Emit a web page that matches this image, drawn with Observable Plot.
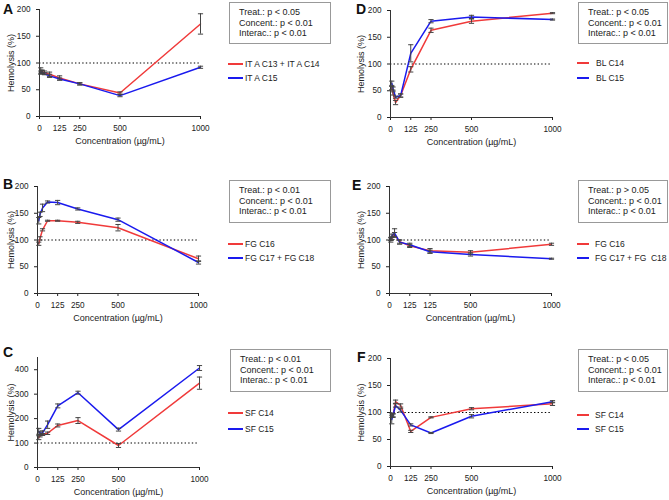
<!DOCTYPE html>
<html><head><meta charset="utf-8">
<script src="https://cdn.jsdelivr.net/npm/d3@7"></script>
<script src="https://cdn.jsdelivr.net/npm/@observablehq/plot@0.6"></script>
<style>
body{margin:0;background:#fff;}
#fig{position:relative;width:669px;height:500px;background:#fff;font-family:"Liberation Sans",Arial,sans-serif;color:#222;}
.pl{position:absolute;}
.pl [aria-label="x-axis tick label"], .pl [aria-label="y-axis tick label"]{font-size:8.2px;}
.letter{position:absolute;font-weight:bold;font-size:14px;line-height:14px;color:#111;}
.stats{position:absolute;border:1px solid #999;box-sizing:border-box;font-size:9px;line-height:10.7px;padding:4px 0 0 9px;white-space:pre;background:#fff;}
.leg{position:absolute;font-size:8.5px;white-space:pre;}
.leg .row{position:absolute;left:0;height:12px;}
.leg .sw{position:absolute;left:0;width:15px;height:0;border-top:2px solid;}
.leg .tx{position:absolute;top:-5px;line-height:12px;}
</style></head>
<body><div id="fig"></div>
<script>
// concentrations (µg/mL)
const conc = [7.8, 15.6, 31.25, 62.5, 125, 250, 500, 1000];
const xTicks = [0, 125, 250, 500, 1000];
const xTickLabels = ["0", "125", "250", "500", "1000"];
const xTickLabelsE = ["0", "125", "125", "500", "1000"];

// Panel A
const aRed = [86, 84, 82, 79, 72, 61, 44, 173];
const aRedErr = [5, 3, 3, 4, 4, 2, 2, 19];
const aBlue = [82, 83, 80, 76, 70, 61, 39, 92];
const aBlueErr = [3, 3, 2, 3, 2, 2, 2, 2];
// Panel D
const dRed = [55, 45, 28, 41, 90, 163, 180, 195];
const dRedErr = [3, 3, 4, 3, 5, 4, 4, 1];
const dBlue = [64, 54, 38, 41, 120, 180, 188, 183];
const dBlueErr = [4, 3, 2, 3, 16, 3, 3, 1];
// Panel B
const bRed = [93, 103, 119, 136, 136, 133, 123, 65];
const bRedErr = [3, 3, 2, 1, 1, 2, 6, 5];
const bBlue = [136, 148, 160, 171, 170, 158, 138, 58];
const bBlueErr = [6, 4, 7, 2, 4, 2, 3, 3];
// Panel E
const eRed = [100, 104, 110, 97, 89, 80, 77, 92];
const eRedErr = [4, 3, 4, 3, 3, 4, 3, 2];
const eBlue = [102, 108, 113, 96, 91, 78, 73, 65];
const eBlueErr = [3, 3, 8, 4, 3, 3, 3, 1];
// Panel C
const cRed = [122, 130, 135, 140, 172, 192, 90, 345];
const cRedErr = [8, 5, 4, 5, 6, 12, 8, 25];
const cBlue = [148, 140, 142, 175, 252, 306, 155, 407];
const cBlueErr = [12, 6, 8, 15, 8, 6, 6, 10];
// Panel F
const fRed = [95, 94, 120, 113, 65, 91, 107, 116];
const fRedErr = [4, 3, 3, 3, 2, 1, 2, 3];
const fBlue = [87, 95, 113, 104, 77, 62, 93, 120];
const fBlueErr = [8, 3, 3, 3, 2, 1, 3, 2];

const yTicks200 = [0, 50, 100, 150, 200];
const yTicks450 = [0, 100, 200, 300, 400];

const RED = "#f03a3a", BLUE = "#1a1aee";

const capSymbol = {draw(ctx, size){ const w = Math.sqrt(size / Math.PI); ctx.moveTo(-w, 0); ctx.lineTo(w, 0); }};

const fig = document.getElementById("fig");

function panel(o){
  const rows = [];
  conc.forEach((c,i)=>{
    rows.push({x:c, y:o.red[i], lo:o.red[i]-o.redErr[i], hi:o.red[i]+o.redErr[i], s:"r"});
    rows.push({x:c, y:o.blue[i], lo:o.blue[i]-o.blueErr[i], hi:o.blue[i]+o.blueErr[i], s:"b"});
  });
  const red = rows.filter(d=>d.s==="r"), blue = rows.filter(d=>d.s==="b");
  const chart = Plot.plot({
    width:o.w, height:o.h, marginLeft:o.ml, marginRight:o.mr, marginTop:o.mt, marginBottom:o.mb,
    style:{fontFamily:"Liberation Sans, Arial, sans-serif", fontSize:"9px", color:"#222", background:"transparent", overflow:"visible"},
    x:{domain:[0,1000], ticks:xTicks, tickFormat:(d,i)=>o.xlabels[i], tickSize:3, label:"Concentration (µg/mL)", labelAnchor:"center", labelOffset:27, labelArrow:"none"},
    y:{domain:o.ydomain, ticks:o.yticks, tickSize:3, label:"Hemolysis (%)", labelAnchor:"center", labelOffset:o.ml-7, labelArrow:"none"},
    marks:[
      Plot.ruleY([{y:100}], {y:"y", x1:()=>0, x2:()=>1000, stroke:"#000", strokeDasharray:"1.4,2.2", strokeWidth:1.1}),
      Plot.ruleX([{x:0, y1:o.ydomain[0], y2:o.ydomain[1]}], {x:"x", y1:"y1", y2:"y2", stroke:"#333"}),
      Plot.ruleY([{y:0, x1:0, x2:1000}], {y:"y", x1:"x1", x2:"x2", stroke:"#333"}),
      Plot.line(red, {x:"x", y:"y", stroke:RED, strokeWidth:1.5}),
      Plot.line(blue, {x:"x", y:"y", stroke:BLUE, strokeWidth:1.5}),
      Plot.ruleX(rows, {x:"x", y1:"lo", y2:"hi", stroke:"#444", strokeWidth:1}),
      Plot.dot(rows, {x:"x", y:"lo", symbol:capSymbol, r:2.6, fill:"none", stroke:"#444", strokeWidth:1}),
      Plot.dot(rows, {x:"x", y:"hi", symbol:capSymbol, r:2.6, fill:"none", stroke:"#444", strokeWidth:1})
    ]
  });
  chart.classList.add("pl");
  chart.style.left = o.left + "px";
  chart.style.top = o.top + "px";
  fig.appendChild(chart);

  const L = document.createElement("div");
  L.className = "letter"; L.textContent = o.letter;
  L.style.left = o.letterX + "px"; L.style.top = o.letterY + "px";
  fig.appendChild(L);

  const S = document.createElement("div");
  S.className = "stats"; S.textContent = o.stats.join("\n");
  S.style.left = o.box[0] + "px"; S.style.top = o.box[1] + "px";
  S.style.width = (o.box[2]-o.box[0]) + "px"; S.style.height = (o.box[3]-o.box[1]) + "px";
  fig.appendChild(S);

  const G = document.createElement("div");
  G.className = "leg"; G.style.left = o.leg[0] + "px"; G.style.top = "0px";
  o.legend.forEach((t,i)=>{
    const r = document.createElement("div"); r.className = "row";
    r.style.top = o.leg[1+i] + "px";
    const sw = document.createElement("div"); sw.className = "sw"; sw.style.borderColor = i===0?RED:BLUE;
    sw.style.width = o.legW + "px";
    const tx = document.createElement("div"); tx.className = "tx"; tx.textContent = t; tx.style.left = (o.legW + o.legGap) + "px";
    r.appendChild(sw); r.appendChild(tx); G.appendChild(r);
  });
  fig.appendChild(G);
}

const statsA = ["Treat.: p < 0.05", "Concent.: p < 0.01", "Interac.: p < 0.01"];
const statsB = ["Treat.: p < 0.01", "Concent.: p < 0.01", "Interac.: p < 0.01"];
const statsE = ["Treat.: p > 0.05", "Concent.: p < 0.01", "Interac.: p < 0.01"];

panel({letter:"A", letterX:3, letterY:2, left:0, top:0, w:215, h:148, ml:39, mr:15, mt:9, mb:32,
  ydomain:[0,200], yticks:yTicks200, xlabels:xTickLabels, red:aRed, redErr:aRedErr, blue:aBlue, blueErr:aBlueErr,
  stats:statsA, box:[229,2,331,44], legend:["IT A C13 + IT A C14","IT A C15"], leg:[228,63,77], legW:15, legGap:2});
panel({letter:"D", letterX:356, letterY:2, left:350, top:0, w:215, h:149, ml:40, mr:13, mt:10, mb:32,
  ydomain:[0,200], yticks:yTicks200, xlabels:xTickLabels, red:dRed, redErr:dRedErr, blue:dBlue, blueErr:dBlueErr,
  stats:statsA, box:[578,2,668,44], legend:["BL C14","BL C15"], leg:[577,62,77], legW:12, legGap:7});
panel({letter:"B", letterX:3, letterY:177, left:0, top:175, w:215, h:150, ml:37, mr:17, mt:11, mb:32,
  ydomain:[0,200], yticks:yTicks200, xlabels:xTickLabels, red:bRed, redErr:bRedErr, blue:bBlue, blueErr:bBlueErr,
  stats:statsB, box:[229,180,331,223], legend:["FG C16","FG C17 + FG C18"], leg:[228,243,257], legW:15, legGap:2});
panel({letter:"E", letterX:352, letterY:178, left:350, top:175, w:215, h:150, ml:39, mr:14, mt:11, mb:32,
  ydomain:[0,200], yticks:yTicks200, xlabels:xTickLabelsE, red:eRed, redErr:eRedErr, blue:eBlue, blueErr:eBlueErr,
  stats:statsE, box:[578,180,668,223], legend:["FG C16","FG C17 + FG  C18"], leg:[577,243,257], legW:12, legGap:6});
panel({letter:"C", letterX:3, letterY:345, left:0, top:347, w:215, h:152, ml:37, mr:16, mt:10, mb:32,
  ydomain:[0,450], yticks:yTicks450, xlabels:xTickLabels, red:cRed, redErr:cRedErr, blue:cBlue, blueErr:cBlueErr,
  stats:statsB, box:[230,349,331,392], legend:["SF C14","SF C15"], leg:[228,412,428], legW:15, legGap:2});
panel({letter:"F", letterX:357, letterY:350, left:350, top:347, w:215, h:151, ml:40, mr:13, mt:11, mb:32,
  ydomain:[0,200], yticks:yTicks200, xlabels:xTickLabels, red:fRed, redErr:fRedErr, blue:fBlue, blueErr:fBlueErr,
  stats:statsA, box:[578,349,668,392], legend:["SF C14","SF C15"], leg:[577,414,428], legW:12, legGap:6});
</script></body></html>
